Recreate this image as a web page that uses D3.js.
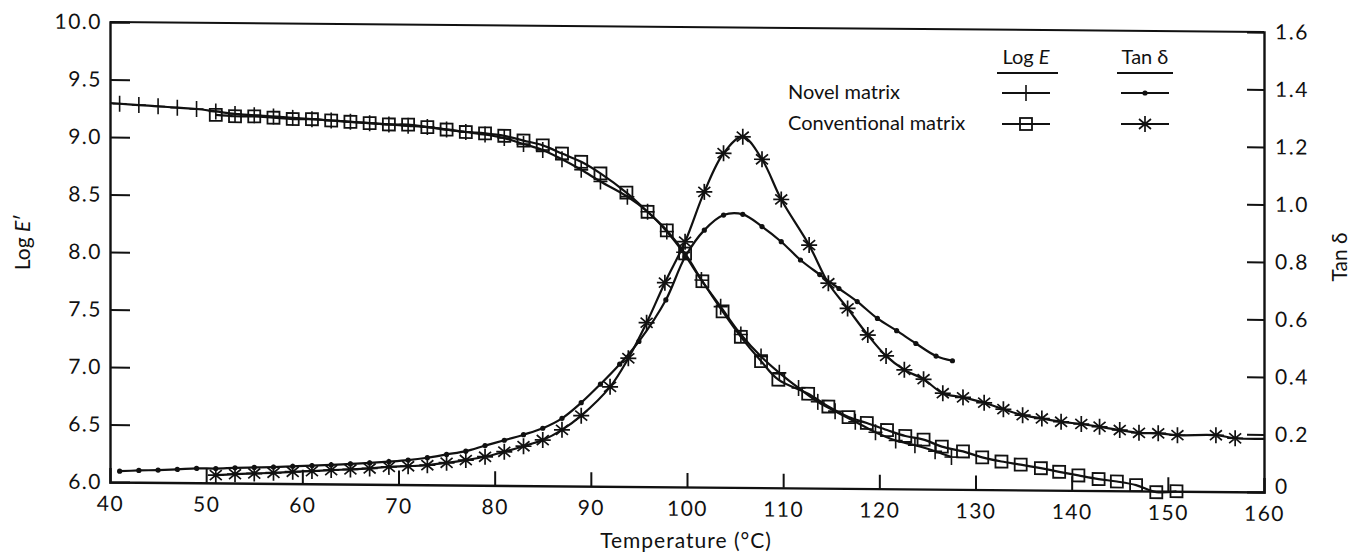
<!DOCTYPE html>
<html>
<head>
<meta charset="utf-8">
<script src="https://cdn.jsdelivr.net/npm/d3@7"></script>
<style>
  body { margin: 0; background: #fff; }
  text { font-family: Lato, "DejaVu Sans", sans-serif; fill: #111; }
</style>
</head>
<body>
<div id="chart"></div>
<script>
// Log E' - novel matrix (+)
const novelLogT = [41,43,45,47,49,51,53,55,57,59,61,63,65,67,69,71,73,75,77,79,81,83,85,87,89,91,
                   93.8,95.9,97.9,99.6,101.5,103.5,105.6,107.7,109.6,111.6,113.6,115.4,117.5,119.6,121.7,123.7,125.8,127.5];
const novelLogE = [9.29,9.28,9.27,9.26,9.25,9.23,9.21,9.20,9.19,9.18,9.17,9.16,9.15,9.14,9.13,9.12,9.11,9.09,9.07,9.05,9.02,8.97,8.92,8.84,8.75,8.65,
                   8.52,8.39,8.22,8.04,7.80,7.57,7.33,7.14,7.00,6.87,6.75,6.67,6.58,6.49,6.42,6.38,6.33,6.28];
// the + line starts right at the left axis
const novelLogHead = [40, 9.295];

// Log E' - conventional matrix (squares)
const convLogT = [51,53,55,57,59,61,63,65,67,69,71,73,75,77,79,81,83,85,87,
                  89,91,93.7,95.9,97.9,99.8,101.6,103.7,105.6,107.7,109.5,112.6,114.7,116.8,118.7,120.8,122.7,124.6,126.5,128.7,
                  130.7,132.7,134.7,136.8,138.7,140.7,142.8,144.7,146.7,148.8,150.9];
const convLogE = [9.20,9.19,9.19,9.18,9.17,9.17,9.16,9.15,9.14,9.13,9.13,9.11,9.09,9.07,9.06,9.04,9.00,8.96,8.89,
                  8.82,8.72,8.555,8.39,8.23,8.03,7.79,7.53,7.31,7.10,6.94,6.82,6.71,6.62,6.57,6.51,6.46,6.43,6.37,6.33,
                  6.28,6.245,6.22,6.19,6.16,6.13,6.10,6.08,6.05,5.99,6.00];

// Tan delta - novel matrix (dots)
const novelTanT = [41,43,45,47,49,51,53,55,57,59,61,63,65,67,69,71,73,75,77,79,81,83,85,87,89,91,
                   93,95,97.8,99.8,101.8,103.8,105.8,107.8,109.8,111.8,113.8,115.8,117.7,119.8,121.8,123.8,125.9,127.6];
const novelTan = [0.038,0.041,0.043,0.046,0.050,0.050,0.053,0.055,0.057,0.060,0.063,0.066,0.070,0.074,0.079,0.085,0.094,0.106,0.118,0.138,
                  0.157,0.177,0.200,0.235,0.290,0.355,
                  0.425,0.505,0.650,0.800,0.894,0.947,0.950,0.908,0.856,0.793,0.743,0.695,0.650,0.592,0.550,0.506,0.463,0.447];

// Tan delta - conventional matrix (asterisks)
const convTanT = [51,53,55,57,59,61,63,65,67,69,71,73,75,77,79,81,83,85,
                  87,89,92,93.9,95.8,97.7,99.8,101.8,103.8,105.8,107.8,109.8,112.7,114.7,116.7,118.8,120.7,122.6,124.6,126.6,
                  128.7,130.9,132.9,134.9,136.9,138.9,141,142.9,145,147,149,151,155,157];
const convTan = [0.027,0.031,0.034,0.037,0.041,0.044,0.048,0.051,0.055,0.061,0.064,0.068,0.077,0.087,0.099,0.117,0.137,0.159,
                 0.195,0.245,0.346,0.446,0.570,0.710,0.853,1.027,1.162,1.220,1.142,1.003,0.845,0.713,0.626,0.534,0.462,0.414,0.382,0.334,
                 0.320,0.302,0.280,0.260,0.249,0.238,0.231,0.222,0.211,0.202,0.201,0.195,0.196,0.186];
// line runs on to the right axis after the last star
const convTanTail = [160, 0.185];

const leftTicks = [6.0,6.5,7.0,7.5,8.0,8.5,9.0,9.5,10.0];
const rightTicks = [0,0.2,0.4,0.6,0.8,1.0,1.2,1.4,1.6];
const xTicks = [40,50,60,70,80,90,100,110,120,130,140,150,160];

const W = 1352, H = 554;
const plotL = 110, plotR = 1264, plotT = 22, plotB = 482;
const tilt = 0.00865;   // the scanned figure is slightly tilted

const x = d3.scaleLinear().domain([40, 160]).range([plotL, plotR]);
const yL = d3.scaleLinear().domain([6, 10]).range([plotB, plotT]);
const yR = d3.scaleLinear().domain([0, 1.6]).range([plotB, plotT]);

const svg = d3.select("#chart").append("svg")
    .attr("width", W)
    .attr("height", H);

svg.append("rect").attr("width", W).attr("height", H).attr("fill", "#fff");

const g = svg.append("g")
    .attr("transform", "matrix(1," + tilt + ",0,1,0," + (-tilt * plotL) + ")");

// frame
g.append("line").attr("x1", plotL).attr("x2", plotR).attr("y1", plotT).attr("y2", plotT)
    .attr("stroke", "#111").attr("stroke-width", 2);

// axes: ticks (inward) and labels
const fmt1 = d3.format(".1f");

const axL = g.append("g").attr("transform", "translate(" + plotL + ",0)")
    .call(d3.axisLeft(yL).tickValues(leftTicks.slice(1, -1)).tickSize(-20).tickFormat(""));
const axLlab = g.append("g").attr("transform", "translate(" + plotL + ",0)")
    .call(d3.axisLeft(yL).tickValues(leftTicks).tickSize(0).tickPadding(8).tickFormat(fmt1));

const axR = g.append("g").attr("transform", "translate(" + plotR + ",0)")
    .call(d3.axisRight(yR).tickValues(rightTicks.slice(1, -1)).tickSize(-17).tickFormat(""));
const axRlab = g.append("g").attr("transform", "translate(" + plotR + ",0)")
    .call(d3.axisRight(yR).tickValues(rightTicks).tickSize(0).tickPadding(11)
        .tickFormat(function(d) { return d === 0 ? "0" : fmt1(d); }));

const axB = g.append("g").attr("transform", "translate(0," + plotB + ")")
    .call(d3.axisBottom(x).tickValues(xTicks.slice(1, -1)).tickSize(-14).tickFormat(""));
const axBlab = g.append("g").attr("transform", "translate(0," + plotB + ")")
    .call(d3.axisBottom(x).tickValues(xTicks).tickSize(0).tickPadding(14).tickFormat(d3.format("d")));

[axL, axR, axB].forEach(function(a) {
    a.select(".domain").attr("stroke", "#111").attr("stroke-width", 2.4);
    a.selectAll(".tick line").attr("stroke", "#111").attr("stroke-width", 2);
});
[axLlab, axRlab, axBlab].forEach(function(a) {
    a.select(".domain").remove();
    a.selectAll(".tick text")
        .attr("fill", "#111")
        .style("font-family", "Lato, 'DejaVu Sans', sans-serif")
        .style("font-size", "21px")
        .style("letter-spacing", "1.5px");
});
// the "0" on the right sits a little above the corner
axRlab.selectAll(".tick text").filter(function(d) { return d === 0; }).attr("dy", "0.05em");

// series
const curve = d3.curveCatmullRom.alpha(0.5);

function pts(ts, vs) {
    return ts.map(function(t, i) { return [t, vs[i]]; });
}

const novelLog = pts(novelLogT, novelLogE);
const convLog = pts(convLogT, convLogE);
const novelTd = pts(novelTanT, novelTan);
const convTd = pts(convTanT, convTan);

const lineL = d3.line().curve(curve)
    .x(function(d) { return x(d[0]); })
    .y(function(d) { return yL(d[1]); });
const lineR = d3.line().curve(curve)
    .x(function(d) { return x(d[0]); })
    .y(function(d) { return yR(d[1]); });

const plot = g.append("g").attr("fill", "none").attr("stroke", "#111");

plot.append("path").attr("d", lineL([novelLogHead].concat(novelLog))).attr("stroke-width", 2.2);
plot.append("path").attr("d", lineL(convLog)).attr("stroke-width", 2.2);
plot.append("path").attr("d", lineR(novelTd)).attr("stroke-width", 2.2);
plot.append("path").attr("d", lineR(convTd.concat([convTanTail]))).attr("stroke-width", 2.2);

// marker shapes
const plusPath = "M-7,0H7M0,-8V8";
const starPath = "M0,-8V8M-8,0H8M-6,-5L6,5M-6,5L6,-5";

function drawPlus(sel) { sel.append("path").attr("d", plusPath).attr("stroke-width", 1.6); }
function drawSquare(sel) {
    sel.append("rect").attr("x", -6).attr("y", -6).attr("width", 12).attr("height", 12)
        .attr("fill", "none").attr("stroke-width", 1.8);
}
function drawStar(sel) { sel.append("path").attr("d", starPath).attr("stroke-width", 1.7); }
function drawDot(sel) { sel.append("circle").attr("r", 2.6).attr("fill", "#111").attr("stroke", "none"); }

function markers(data, yScale, draw) {
    plot.append("g").selectAll("g")
        .data(data)
        .enter()
        .append("g")
        .attr("transform", function(d) {
            return "translate(" + x(d[0]) + "," + yScale(d[1]) + ")";
        })
        .call(draw);
}

markers(novelLog, yL, drawPlus);
markers(convLog, yL, drawSquare);
markers(novelTd, yR, drawDot);
markers(convTd, yR, drawStar);

// titles
svg.append("text")
    .attr("x", 686)
    .attr("y", 548)
    .attr("text-anchor", "middle")
    .style("font-size", "21px")
    .style("letter-spacing", "1px")
    .text("Temperature (°C)");

const yt = svg.append("text")
    .attr("transform", "translate(30,242) rotate(-90)")
    .attr("text-anchor", "middle")
    .style("font-size", "21px");
yt.append("tspan").text("Log ");
yt.append("tspan").style("font-style", "italic").text("E");
yt.append("tspan").text("′");

svg.append("text")
    .attr("transform", "translate(1347,257) rotate(-90)")
    .attr("text-anchor", "middle")
    .style("font-size", "21px")
    .text("Tan δ");

// legend
const lg = svg.append("g");
const colLog = 1026, colTan = 1145;

const h1 = lg.append("text").attr("x", colLog).attr("y", 64).attr("text-anchor", "middle").style("font-size", "20px");
h1.append("tspan").text("Log ");
h1.append("tspan").style("font-style", "italic").text("E");
lg.append("text").attr("x", colTan).attr("y", 64).attr("text-anchor", "middle").style("font-size", "20px").text("Tan δ");

lg.append("line").attr("x1", colLog - 29).attr("x2", colLog + 32).attr("y1", 73).attr("y2", 73)
    .attr("stroke", "#111").attr("stroke-width", 2);
lg.append("line").attr("x1", colTan - 28).attr("x2", colTan + 28).attr("y1", 73).attr("y2", 73)
    .attr("stroke", "#111").attr("stroke-width", 2);

const rows = [
    {label: "Novel matrix", y: 93, log: drawPlus, tan: drawDot},
    {label: "Conventional matrix", y: 124, log: drawSquare, tan: drawStar}
];

rows.forEach(function(r) {
    lg.append("text").attr("x", 788).attr("y", r.y + 6).style("font-size", "20px").text(r.label);
    [[colLog, r.log], [colTan, r.tan]].forEach(function(c) {
        lg.append("line").attr("x1", c[0] - 24).attr("x2", c[0] + 24).attr("y1", r.y).attr("y2", r.y)
            .attr("stroke", "#111").attr("stroke-width", 2);
        lg.append("g").attr("transform", "translate(" + c[0] + "," + r.y + ")")
            .attr("fill", "none").attr("stroke", "#111")
            .call(c[1]);
    });
});
</script>
</body>
</html>
